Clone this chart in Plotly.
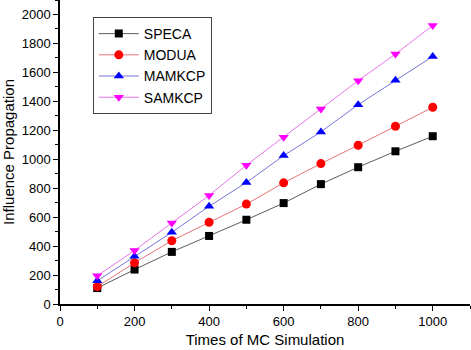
import plotly.graph_objects as go

x_times = [100, 200, 300, 400, 500, 600, 700, 800, 900, 1000]
speca = [110, 238, 360, 470, 582, 697, 828, 945, 1055, 1159]
modua = [120, 285, 437, 565, 690, 837, 970, 1097, 1228, 1359]
mamkcp = [160, 330, 495, 675, 839, 1025, 1189, 1377, 1545, 1710]
samkcp = [195, 370, 560, 750, 959, 1152, 1347, 1543, 1727, 1924]

series = [
    ("SPECA", speca, "black", "#333333", "square", 8),
    ("MODUA", modua, "#ff0000", "#e05050", "circle", 9),
    ("MAMKCP", mamkcp, "#0000ff", "#5050d0", "triangle-up", 9),
    ("SAMKCP", samkcp, "#ff00ff", "#e050e0", "triangle-down", 9),
]

fig = go.Figure()
for name, vals, mc, lc, sym, sz in series:
    fig.add_trace(go.Scatter(
        x=x_times, y=vals, name=name, mode="lines+markers",
        line=dict(color=lc, width=0.8),
        marker=dict(color=mc, symbol=sym, size=sz, line=dict(width=0)),
    ))

font = "Liberation Sans, Arial, sans-serif"
fig.update_layout(
    width=471, height=350,
    margin=dict(l=60, r=1, t=0, b=46),
    paper_bgcolor="white", plot_bgcolor="white",
    font=dict(family=font, size=13, color="black"),
    showlegend=True,
    legend=dict(
        x=0.08, y=0.944, xanchor="left", yanchor="top",
        bordercolor="#444444", borderwidth=1, bgcolor="white",
        font=dict(size=14, family=font), tracegroupgap=0, itemwidth=40,
    ),
    xaxis=dict(
        range=[0, 1100], tickvals=[0, 200, 400, 600, 800, 1000], automargin=False,
        showgrid=False, zeroline=False, showline=True, linecolor="black", linewidth=1.5,
        ticks="outside", ticklen=5, tickwidth=1.2, tickcolor="black",
        minor=dict(tickvals=[100, 300, 500, 700, 900, 1100], ticks="outside", ticklen=3, tickcolor="black", showgrid=False),
        title=dict(text="Times of MC Simulation", font=dict(size=15), standoff=6),
        tickfont=dict(size=13),
    ),
    yaxis=dict(
        range=[0, 2100], tickvals=[0, 200, 400, 600, 800, 1000, 1200, 1400, 1600, 1800, 2000], automargin=False,
        showgrid=False, zeroline=False, showline=True, linecolor="black", linewidth=1.5,
        ticks="outside", ticklen=5, tickwidth=1.2, tickcolor="black",
        minor=dict(tickvals=[100, 300, 500, 700, 900, 1100, 1300, 1500, 1700, 1900, 2100], ticks="outside", ticklen=3, tickcolor="black", showgrid=False),
        title=dict(text="Influence Propagation", font=dict(size=15), standoff=6),
        tickfont=dict(size=13),
    ),
)

fig.write_html("out.html", config={"displayModeBar": False},
               post_script="document.body.style.margin='0';document.body.style.overflow='hidden';")
